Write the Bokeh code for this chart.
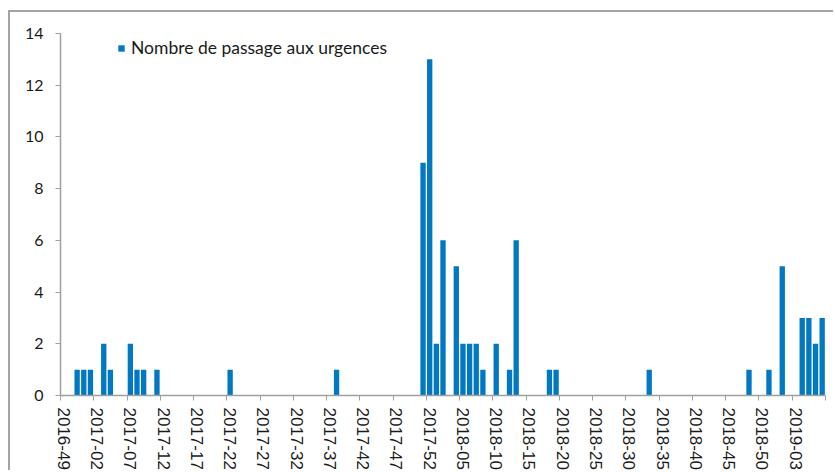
from bokeh.plotting import figure
from bokeh.models import FixedTicker, Range1d, Legend
from bokeh.embed import file_html
from bokeh.resources import INLINE

# ISO weeks from 2016-49 to 2019-07
weeks = (["2016-%02d" % w for w in range(49, 53)]
         + ["2017-%02d" % w for w in range(1, 53)]
         + ["2018-%02d" % w for w in range(1, 53)]
         + ["2019-%02d" % w for w in range(1, 8)])

passages = [
    0, 0, 1, 1, 1, 0, 2, 1, 0, 0,
    2, 1, 1, 0, 1, 0, 0, 0, 0, 0,
    0, 0, 0, 0, 0, 1, 0, 0, 0, 0,
    0, 0, 0, 0, 0, 0, 0, 0, 0, 0,
    0, 1, 0, 0, 0, 0, 0, 0, 0, 0,
    0, 0, 0, 0, 9, 13, 2, 6, 0, 5,
    2, 2, 2, 1, 0, 2, 0, 1, 6, 0,
    0, 0, 0, 1, 1, 0, 0, 0, 0, 0,
    0, 0, 0, 0, 0, 0, 0, 0, 1, 0,
    0, 0, 0, 0, 0, 0, 0, 0, 0, 0,
    0, 0, 0, 1, 0, 0, 1, 0, 5, 0,
    0, 3, 3, 2, 3,
]

label_step = 5
y_ticks = [0, 2, 4, 6, 8, 10, 12, 14]
series_name = "Nombre de passage aux urgences"

n = len(weeks)
centers = [i + 0.5 for i in range(n)]
label_idx = list(range(0, n, label_step))
major = [i + 0.5 for i in label_idx]
minor = list(range(0, n + 1, label_step))

p = figure(
    width=825, height=460,
    x_range=Range1d(0, n), y_range=Range1d(0, 14),
    output_backend="svg", toolbar_location=None,
    min_border_left=50, min_border_right=10, min_border_top=21, min_border_bottom=77,
)
p.margin = (10, 0, 0, 8)
p.styles = {"border-top": "2px solid #a3a3a3", "border-left": "2px solid #a3a3a3"}

r = p.vbar(x=centers, top=passages, width=0.8, fill_color="#0078c2", line_color=None)

p.xgrid.visible = False
p.ygrid.visible = False
p.outline_line_color = None

axis_col = "#a0a0a0"
text_col = "#1a1a1a"

xa = p.xaxis[0]
xa.ticker = FixedTicker(ticks=major, minor_ticks=minor)
xa.major_label_overrides = {c: weeks[i] for c, i in zip(major, label_idx)}
xa.major_label_orientation = "vertical"
xa.major_tick_line_color = None
xa.major_tick_out = 5
xa.major_tick_in = 0
xa.minor_tick_line_color = axis_col
xa.minor_tick_out = 5
xa.minor_tick_in = 0
xa.major_label_standoff = 7
xa.axis_line_color = axis_col
xa.axis_line_width = 1.5
xa.major_label_text_font = "Liberation Sans"
xa.major_label_text_font_size = "17px"
xa.major_label_text_color = text_col

ya = p.yaxis[0]
ya.ticker = FixedTicker(ticks=y_ticks)
ya.minor_tick_line_color = None
ya.major_tick_out = 5
ya.major_tick_in = 0
ya.major_tick_line_color = axis_col
ya.axis_line_color = axis_col
ya.axis_line_width = 1.5
ya.major_label_standoff = 12
ya.major_label_text_font = "Lato"
ya.major_label_text_font_size = "16px"
ya.major_label_text_color = text_col

legend = Legend(items=[(series_name, [r])], location=(57, 337),
                glyph_width=8, glyph_height=8, label_standoff=6,
                padding=2, margin=0, border_line_color=None,
                background_fill_alpha=0,
                label_text_font="Lato", label_text_font_size="17.5px",
                label_text_color=text_col)
p.add_layout(legend)

open("out.html", "w").write(file_html(p, INLINE))
